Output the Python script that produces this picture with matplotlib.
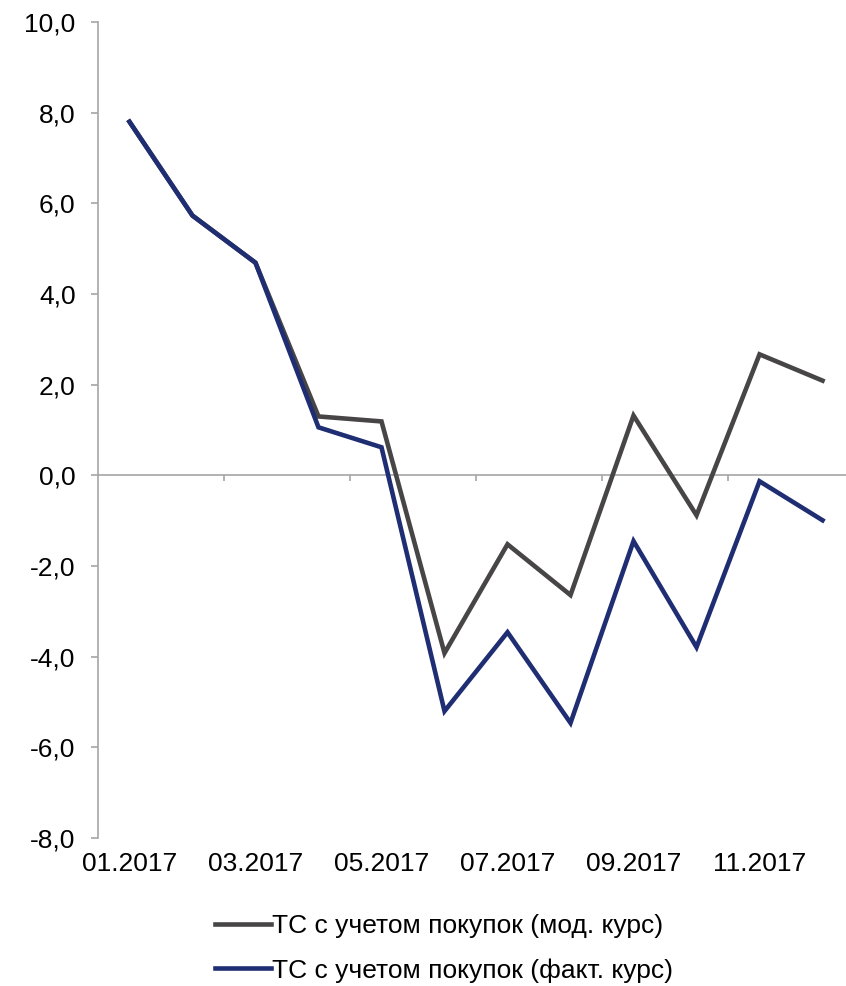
import matplotlib.pyplot as plt
from matplotlib.ticker import FuncFormatter

plt.rcParams['font.family'] = ['Liberation Sans', 'DejaVu Sans']

months = ['01.2017', '02.2017', '03.2017', '04.2017', '05.2017', '06.2017',
          '07.2017', '08.2017', '09.2017', '10.2017', '11.2017', '12.2017']
mod_rate = [7.8, 5.73, 4.69, 1.3, 1.19, -3.92, -1.52, -2.64, 1.32, -0.88, 2.67, 2.09]
fact_rate = [7.8, 5.73, 4.69, 1.06, 0.62, -5.2, -3.46, -5.46, -1.45, -3.79, -0.13, -0.99]
series_labels = ['ТС с учетом покупок (мод. курс)', 'ТС с учетом покупок (факт. курс)']

grey = '#474546'
navy = '#1F2D73'
axis_color = '#A6A6A6'
fs = 19

fig = plt.figure(figsize=(8.46, 9.86), dpi=100)
ax = fig.add_axes([0.1158, 0.150, 1.0095 - 0.1158, 0.9777 - 0.150])

x = list(range(len(months)))
ax.plot(x, mod_rate, color=grey, lw=3.3, label=series_labels[0], solid_joinstyle='miter')
ax.plot(x, fact_rate, color=navy, lw=3.3, label=series_labels[1], solid_joinstyle='miter')

ax.set_xlim(-0.5, len(months) - 0.5)
ax.set_ylim(-8, 10)
ax.set_yticks(range(-8, 11, 2))
ax.yaxis.set_major_formatter(FuncFormatter(lambda v, p: f'{v:.1f}'.replace('.', ',')))

for s in ['top', 'right', 'bottom']:
    ax.spines[s].set_visible(False)
ax.spines['left'].set_color(axis_color)
ax.spines['left'].set_linewidth(1.2)
ax.tick_params(axis='y', direction='out', length=5, width=1.2, color=axis_color,
               labelsize=fs, pad=11)

# category labels every second month, below the plot
ax.set_xticks(x[::2])
ax.set_xticklabels(months[::2])
ax.tick_params(axis='x', length=0, labelsize=fs, pad=10)

# zero line with tick marks between category pairs
ax.axhline(0, color=axis_color, lw=1.2, zorder=1)
zero_frac = (0 - (-8)) / (10 - (-8))
sec = ax.secondary_xaxis(zero_frac)
sec.set_xticks([i + 1.5 for i in x[::2][:-1]])
sec.set_xticklabels([])
sec.spines['bottom'].set_visible(False)
sec.spines['top'].set_visible(False)
sec.tick_params(axis='x', direction='out', length=4.5, width=1.2, color=axis_color,
                bottom=True, top=False)

fig.legend(loc='center', bbox_to_anchor=(0.525, 0.038), frameon=False, fontsize=fs,
           handlelength=2.1, handletextpad=0.05, labelspacing=0.75, borderpad=0)

fig.savefig('out.png', dpi=100)
